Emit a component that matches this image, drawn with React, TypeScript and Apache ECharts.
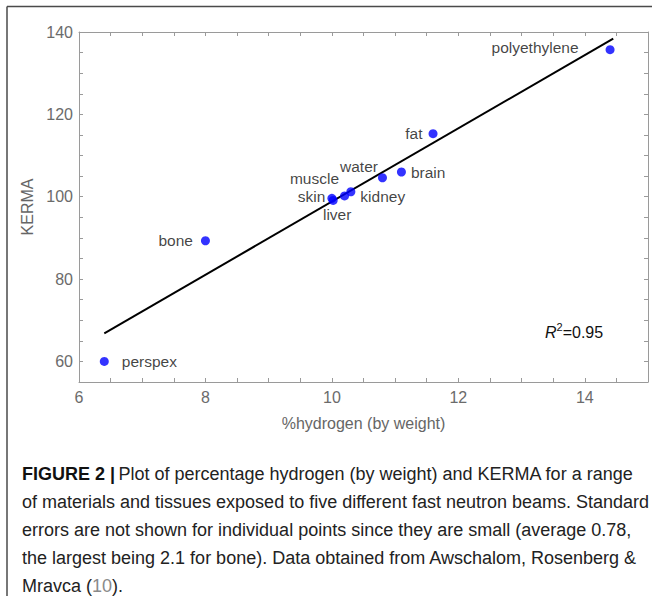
import React, { useEffect, useRef } from "react";
import * as echarts from "echarts";

// Materials: %hydrogen (by weight) vs KERMA
const materials = ["perspex", "bone", "skin", "liver", "muscle", "kidney", "water", "brain", "fat", "polyethylene"];
const hydrogen = [6.4, 8.0, 10.0, 10.02, 10.2, 10.3, 10.8, 11.1, 11.6, 14.4];
const kerma = [60.0, 89.3, 99.6, 99.1, 100.2, 101.2, 104.6, 106.0, 115.3, 135.7];

// Fitted line end points
const fitX = [6.4, 14.45];
const fitY = [66.8, 138.4];

const xTickLabels = [6, 8, 10, 12, 14];
const yTickLabels = [60, 80, 100, 120, 140];

const captionLines = [
  "Plot of percentage hydrogen (by weight) and KERMA for a range",
  "of materials and tissues exposed to five different fast neutron beams. Standard",
  "errors are not shown for individual points since they are small (average 0.78,",
  "the largest being 2.1 for bone). Data obtained from Awschalom, Rosenberg &",
  "Mravca (",
];

// label placement per material: [position, distance, offsetX, offsetY]
const labelPlacement: Record<string, [string, number, number, number]> = {
  perspex: ["right", 13, 0, 0],
  bone: ["left", 8, 0, 0],
  skin: ["left", 2, 0, -2],
  liver: ["bottom", 3, 4, 0],
  muscle: ["left", 1, 0, -17],
  kidney: ["right", 5, 0, 5],
  water: ["left", 0, 0, -11],
  brain: ["right", 5, 0, 0],
  fat: ["left", 6, 0, 0],
  polyethylene: ["left", 27, 0, -2],
};

const FONT = "'Liberation Sans', Arial, sans-serif";

export default function App() {
  const ref = useRef<HTMLDivElement>(null);
  useEffect(() => {
    document.body.style.margin = "0";
    const chart = echarts.init(ref.current!, null, { renderer: "svg" });
    const pts = materials.map((m, i) => {
      const p = labelPlacement[m];
      return {
        name: m,
        value: [hydrogen[i], kerma[i]],
        label: {
          show: true,
          formatter: m,
          position: p[0],
          distance: p[1],
          offset: [p[2], p[3]],
          color: "#111",
          fontSize: 15.5,
          lineHeight: 14,
          fontFamily: FONT,
        },
      };
    });
    const axisCommon = {
      axisLine: { show: true, onZero: false, lineStyle: { color: "#9a9a9a", width: 1 } },
      axisTick: { show: true, inside: true, length: 4, lineStyle: { color: "#9a9a9a" } },
      splitLine: { show: false },
    };
    const isLabel = (arr: number[]) => (v: number) =>
      arr.some((a) => Math.abs(a - v) < 1e-6) ? String(v) : "";
    const option: any = {
      animation: false,
      backgroundColor: "#fff",
      grid: { left: 79, right: 4, top: 32, bottom: 214 },
      xAxis: [
        {
          type: "value",
          min: 6,
          max: 15,
          interval: 0.5,
          position: "bottom",
          name: "%hydrogen (by weight)",
          nameLocation: "middle",
          nameGap: 33,
          nameTextStyle: { color: "#666", fontSize: 16, fontFamily: FONT },
          axisLabel: {
            formatter: isLabel(xTickLabels),
            color: "#6b6b6b",
            fontSize: 16,
            fontFamily: FONT,
            margin: 7,
            showMaxLabel: false,
          },
          ...axisCommon,
        },
        {
          type: "value",
          min: 6,
          max: 15,
          interval: 0.5,
          position: "top",
          axisLabel: { show: false },
          ...axisCommon,
        },
      ],
      yAxis: [
        {
          type: "value",
          min: 55,
          max: 140,
          interval: 5,
          position: "left",
          name: "KERMA",
          nameLocation: "middle",
          nameGap: 26,
          nameTextStyle: { color: "#666", fontSize: 16, fontFamily: FONT },
          axisLabel: {
            formatter: isLabel(yTickLabels),
            color: "#6b6b6b",
            fontSize: 16,
            fontFamily: FONT,
            margin: 6,
          },
          ...axisCommon,
        },
        {
          type: "value",
          min: 55,
          max: 140,
          interval: 5,
          position: "right",
          axisLabel: { show: false },
          ...axisCommon,
        },
      ],
      series: [
        {
          type: "line",
          data: fitX.map((x, i) => [x, fitY[i]]),
          symbol: "none",
          lineStyle: { color: "#000", width: 2 },
          z: 1,
        },
        {
          type: "scatter",
          data: pts,
          symbolSize: 9,
          itemStyle: { color: "#0000ff" },
          z: 2,
        },
      ],
      graphic: [
        { type: "line", shape: { x1: 7, y1: 6.5, x2: 652, y2: 6.5 }, style: { stroke: "#4a4a4a", lineWidth: 1.5 } },
        { type: "line", shape: { x1: 7, y1: 6.5, x2: 7, y2: 596 }, style: { stroke: "#4a4a4a", lineWidth: 1.5 } },
        {
          type: "text",
          left: 545,
          top: 321,
          style: {
            text: "{i|R}{s|2}{n|=0.95}",
            rich: {
              i: { fontStyle: "italic", fontSize: 16, fontFamily: FONT, fill: "#111", verticalAlign: "bottom" },
              s: { fontSize: 11, fontFamily: FONT, fill: "#111", verticalAlign: "top", padding: [0, 0, 8, 0] },
              n: { fontSize: 16, fontFamily: FONT, fill: "#111", verticalAlign: "bottom" },
            },
          },
        },
        ...captionLines.map((t, i) => ({
          type: "text",
          left: 22,
          top: 465 + i * 28,
          style:
            i === 0
              ? {
                  text: "{b|FIGURE 2 |} {n|" + t + "}",
                  rich: {
                    b: { fontWeight: "bold", fontSize: 18, fontFamily: FONT, fill: "#111" },
                    n: { fontSize: 18, fontFamily: FONT, fill: "#222" },
                  },
                }
              : i === 4
              ? {
                  text: "{n|" + t + "}{l|10}{n|).}",
                  rich: {
                    n: { fontSize: 18, fontFamily: FONT, fill: "#222" },
                    l: { fontSize: 18, fontFamily: FONT, fill: "#8a8a8a" },
                  },
                }
              : { text: t, fontSize: 18, fontFamily: FONT, fill: "#222" },
        })),
      ],
    };
    chart.setOption(option);
    return () => chart.dispose();
  }, []);
  return <div ref={ref} style={{ width: 652, height: 596 }} />;
}
